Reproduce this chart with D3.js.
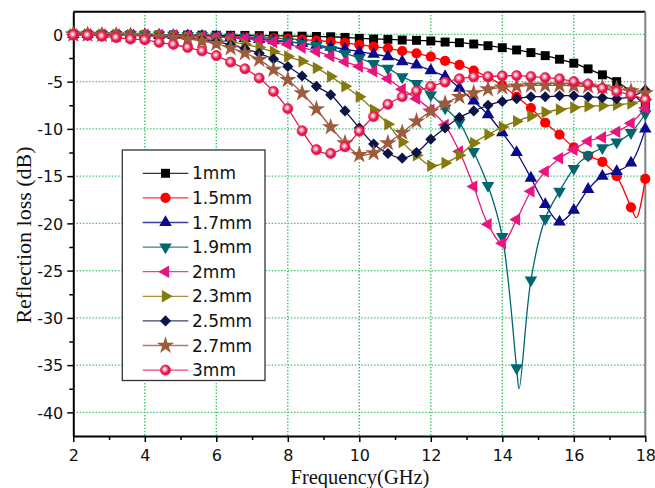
<!DOCTYPE html>
<html>
<head>
<meta charset="utf-8">
<script src="https://cdn.jsdelivr.net/npm/d3@7/dist/d3.min.js"></script>
<style>
  body { margin: 0; background: #fff; }
  svg { display: block; }
</style>
</head>
<body>
<svg id="chart" width="655" height="488"></svg>
<script>
// Frequency sampling points (GHz), one marker per point
const freqGHz = [2.0, 2.4, 2.8, 3.2, 3.6, 4.0, 4.4, 4.8, 5.2, 5.6, 6.0, 6.4, 6.8, 7.2, 7.6, 8.0,
  8.4, 8.8, 9.2, 9.6, 10.0, 10.4, 10.8, 11.2, 11.6, 12.0, 12.4, 12.8, 13.2, 13.6, 14.0, 14.4,
  14.8, 15.2, 15.6, 16.0, 16.4, 16.8, 17.2, 17.6, 18.0];

// Reflection loss (dB) for each absorber thickness
const rl1mm = [0, 0, 0, -0.02, -0.03, -0.04, -0.05, -0.06, -0.07, -0.08, -0.09, -0.1, -0.11, -0.13,
  -0.15, -0.17, -0.19, -0.22, -0.25, -0.32, -0.42, -0.49, -0.53, -0.6, -0.63, -0.7, -0.81, -0.88,
  -1.02, -1.2, -1.41, -1.65, -1.93, -2.25, -2.63, -3.05, -3.65, -4.28, -5.0, -6.1, -7.6];
const rl15mm = [0, 0, 0, -0.02, -0.04, -0.06, -0.08, -0.1, -0.13, -0.16, -0.2, -0.24, -0.28, -0.33,
  -0.4, -0.47, -0.55, -0.65, -0.78, -0.9, -1.1, -1.3, -1.47, -1.76, -2.0, -2.36, -2.81, -3.23,
  -3.83, -4.53, -5.4, -6.6, -7.8, -9.35, -10.6, -11.95, -12.85, -13.5, -15.0, -18.3, -15.3];
const rl17mm = [0, 0, -0.01, -0.02, -0.03, -0.05, -0.08, -0.11, -0.15, -0.2, -0.26, -0.33, -0.42,
  -0.52, -0.65, -0.8, -0.95, -1.15, -1.35, -1.55, -1.83, -2.1, -2.36, -2.88, -3.23, -3.83, -4.46,
  -5.7, -7.05, -8.5, -10.4, -12.5, -15.2, -18.0, -19.85, -18.6, -16.4, -15.0, -14.5, -13.6, -10.0];
const rl19mm = [0, 0, -0.01, -0.02, -0.03, -0.05, -0.07, -0.1, -0.13, -0.17, -0.22, -0.28, -0.35,
  -0.45, -0.6, -0.75, -0.95, -1.2, -1.6, -2.0, -2.5, -3.1, -3.6, -4.5, -5.2, -6.4, -7.8, -9.3,
  -12.4, -16.0, -21.4, -35.3, -26.0, -19.5, -16.6, -14.2, -12.8, -12.0, -11.4, -10.4, -8.4];
const rl2mm = [0, 0, -0.01, -0.02, -0.03, -0.05, -0.07, -0.1, -0.14, -0.2, -0.27, -0.35, -0.45,
  -0.6, -0.8, -1.05, -1.4, -1.8, -2.3, -2.9, -3.4, -3.9, -4.7, -5.8, -6.8, -8.0, -9.6, -12.4,
  -16.1, -20.1, -22.1, -19.6, -16.6, -14.5, -13.1, -12.2, -11.3, -10.9, -10.3, -9.4, -7.8];
const rl23mm = [0, 0, -0.02, -0.04, -0.07, -0.11, -0.17, -0.24, -0.33, -0.45, -0.6, -0.8, -1.05,
  -1.4, -1.85, -2.35, -2.85, -3.55, -4.46, -5.5, -6.6, -8.0, -9.5, -11.4, -12.8, -13.9, -13.6,
  -12.8, -11.5, -10.6, -9.8, -9.2, -8.65, -8.25, -7.95, -7.75, -7.6, -7.55, -7.45, -7.3, -6.9];
const rl25mm = [0, -0.02, -0.04, -0.07, -0.1, -0.14, -0.2, -0.28, -0.4, -0.55, -0.8, -1.1, -1.5,
  -2.0, -2.6, -3.4, -4.4, -5.5, -6.4, -8.1, -9.9, -11.6, -12.6, -13.1, -12.5, -11.1, -9.9, -8.8,
  -8.1, -7.5, -7.1, -6.8, -6.6, -6.6, -6.5, -6.5, -6.6, -6.7, -6.8, -6.6, -5.9];
const rl27mm = [0, -0.02, -0.05, -0.08, -0.12, -0.18, -0.25, -0.35, -0.5, -0.7, -1.0, -1.44, -1.97,
  -2.67, -3.73, -4.8, -6.2, -7.9, -9.8, -11.5, -12.75, -12.55, -11.5, -10.4, -9.2, -8.15, -7.3,
  -6.6, -6.2, -5.8, -5.6, -5.5, -5.4, -5.4, -5.4, -5.45, -5.5, -5.6, -5.75, -6.0, -6.2];
const rl3mm = [-0.07, -0.1, -0.2, -0.35, -0.5, -0.58, -0.85, -1.07, -1.39, -1.76, -2.24, -2.94,
  -3.64, -4.62, -6.04, -7.85, -10.2, -12.2, -12.6, -11.9, -10.25, -8.7, -7.4, -6.6, -6.0, -5.5,
  -5.05, -4.7, -4.5, -4.46, -4.4, -4.36, -4.46, -4.57, -4.7, -5.0, -5.26, -5.7, -6.04, -6.4, -6.9];

// Sharp absorption minima that fall between marker points (line only, no marker)
const peak15mm = [[17.75, -19.4]];
const peak19mm = [[14.47, -37.5]];

const seriesNames = ["1mm", "1.5mm", "1.7mm", "1.9mm", "2mm", "2.3mm", "2.5mm", "2.7mm", "3mm"];
const seriesValues = [rl1mm, rl15mm, rl17mm, rl19mm, rl2mm, rl23mm, rl25mm, rl27mm, rl3mm];
const seriesPeaks = [[], peak15mm, [], peak19mm, [], [], [], [], []];

const xTickValues = [2, 4, 6, 8, 10, 12, 14, 16, 18];
const xMinorTicks = [3, 5, 7, 9, 11, 13, 15, 17];
const yTickValues = [0, -5, -10, -15, -20, -25, -30, -35, -40];
const yMinorTicks = [-2.5, -7.5, -12.5, -17.5, -22.5, -27.5, -32.5, -37.5];

// Drawing styles for each thickness
const styles = [
  { color: "#000000", shape: "square" },
  { color: "#ff0000", shape: "circle" },
  { color: "#0a0a8c", shape: "up" },
  { color: "#00666f", shape: "down" },
  { color: "#e8157f", shape: "left" },
  { color: "#867910", shape: "right" },
  { color: "#0a1447", shape: "diamond" },
  { color: "#9e5a3c", shape: "star" },
  { color: "#e8174f", shape: "ball" }
];

const svg = d3.select("#chart");
const plotL = 73.3, plotR = 645.3, plotT = 11.7, plotB = 436;

const x = d3.scaleLinear().domain([2, 18]).range([plotL, plotR]);
const y = d3.scaleLinear().domain([-42.5, 2.4]).range([plotB, plotT]);

// Shaded ball marker for the 3mm series
const defs = svg.append("defs");
const grad = defs.append("radialGradient").attr("id", "ballGrad")
  .attr("cx", "45%").attr("cy", "45%").attr("r", "60%").attr("fx", "42%").attr("fy", "40%");
grad.append("stop").attr("offset", "0%").attr("stop-color", "#ffffff");
grad.append("stop").attr("offset", "28%").attr("stop-color", "#f7a3b6");
grad.append("stop").attr("offset", "62%").attr("stop-color", "#e8174f");
grad.append("stop").attr("offset", "100%").attr("stop-color", "#d8103f");

// Grid
const grid = svg.append("g").attr("class", "grid")
  .attr("stroke", "#3cc06a").attr("stroke-width", 1.4).attr("stroke-dasharray", "1.4,1.8");
grid.selectAll("line.gx").data(xTickValues.filter(v => v > 2 && v < 18)).join("line")
  .attr("class", "gx")
  .attr("x1", d => x(d)).attr("x2", d => x(d)).attr("y1", plotT).attr("y2", plotB);
grid.selectAll("line.gy").data(yTickValues).join("line")
  .attr("class", "gy")
  .attr("y1", d => y(d)).attr("y2", d => y(d)).attr("x1", plotL).attr("x2", plotR);

// Frame top and right
svg.append("line").attr("x1", plotL).attr("x2", plotR).attr("y1", plotT).attr("y2", plotT)
  .attr("stroke", "#000").attr("stroke-width", 2);
svg.append("line").attr("x1", plotR).attr("x2", plotR).attr("y1", plotT).attr("y2", plotB)
  .attr("stroke", "#808080").attr("stroke-width", 2);

// Axes (plain hyphen minus in labels)
const tickFont = "'DejaVu Sans', sans-serif";
const plainFmt = d => String(d);
const xAxis = svg.append("g").attr("transform", `translate(0,${plotB})`)
  .call(d3.axisBottom(x).tickValues(xTickValues).tickFormat(plainFmt)
    .tickSize(6).tickSizeOuter(0).tickPadding(5));
svg.append("g").attr("transform", `translate(0,${plotB})`)
  .call(d3.axisBottom(x).tickValues(xMinorTicks).tickSize(4).tickSizeOuter(0).tickFormat(""))
  .call(g => g.select(".domain").remove());
const yAxis = svg.append("g").attr("transform", `translate(${plotL},0)`)
  .call(d3.axisLeft(y).tickValues(yTickValues).tickFormat(plainFmt)
    .tickSize(6).tickSizeOuter(0).tickPadding(4));
svg.append("g").attr("transform", `translate(${plotL},0)`)
  .call(d3.axisLeft(y).tickValues(yMinorTicks).tickSize(4).tickSizeOuter(0).tickFormat(""))
  .call(g => g.select(".domain").remove());

svg.selectAll(".domain").attr("stroke", "#000").attr("stroke-width", 2);
svg.selectAll(".tick line").attr("stroke", "#000").attr("stroke-width", 1.5);
svg.selectAll(".tick text").attr("font-family", tickFont).attr("font-size", 16)
  .attr("fill", "#111");
xAxis.selectAll(".tick text").attr("dy", "0.9em");
yAxis.selectAll(".tick text").attr("dy", "0.36em");

// Axis titles
svg.append("text").attr("transform", "translate(31,235) rotate(-90)")
  .attr("text-anchor", "middle").attr("font-family", "'Liberation Serif', serif")
  .attr("font-size", 22).attr("fill", "#111").text("Reflection loss (dB)");
svg.append("text").attr("x", 360).attr("y", 483.5)
  .attr("text-anchor", "middle").attr("font-family", "'Liberation Serif', serif")
  .attr("font-size", 20.5).attr("fill", "#111").text("Frequency(GHz)");

// Marker shapes
function markerPath(shape) {
  switch (shape) {
    case "square": return { d: d3.symbol(d3.symbolSquare, 80)(), rot: 0 };
    case "circle": case "ball": return { d: d3.symbol(d3.symbolCircle, 82)(), rot: 0 };
    case "up": return { d: d3.symbol(d3.symbolTriangle, 68)(), rot: 0 };
    case "down": return { d: d3.symbol(d3.symbolTriangle, 68)(), rot: 180 };
    case "left": return { d: d3.symbol(d3.symbolTriangle, 68)(), rot: -90 };
    case "right": return { d: d3.symbol(d3.symbolTriangle, 68)(), rot: 90 };
    case "diamond": return { d: d3.symbol(d3.symbolSquare, 62)(), rot: 45 };
    case "star": return { d: d3.symbol(d3.symbolStar, 95)(), rot: 0 };
  }
}
function drawMarker(sel, st, cx, cy) {
  const m = markerPath(st.shape);
  sel.append("path").attr("d", m.d)
    .attr("transform", `translate(${cx},${cy}) rotate(${m.rot})`)
    .attr("fill", st.shape === "ball" ? "url(#ballGrad)" : st.color)
    .attr("stroke", st.shape === "ball" ? "#e8174f" : "none")
    .attr("stroke-width", 0.6);
}

// Curves with markers
const line = d3.line().x(d => x(d[0])).y(d => y(d[1])).curve(d3.curveCatmullRom.alpha(0.5));
const plot = svg.append("g");
seriesValues.forEach((vals, i) => {
  const st = styles[i];
  const pts = freqGHz.map((f, j) => [f, vals[j]]);
  const linePts = pts.concat(seriesPeaks[i]).sort((a, b) => a[0] - b[0]);
  const g = plot.append("g");
  g.append("path").datum(linePts).attr("d", line).attr("fill", "none")
    .attr("stroke", st.color).attr("stroke-width", 1.3);
  pts.forEach(p => drawMarker(g, st, x(p[0]), y(p[1])));
});

// Legend
const lg = svg.append("g");
lg.append("rect").attr("x", 122.3).attr("y", 150).attr("width", 142.7).attr("height", 230.5)
  .attr("fill", "#fff").attr("stroke", "#333").attr("stroke-width", 1.3);
seriesNames.forEach((name, i) => {
  const st = styles[i];
  const cy = 173.3 + i * 24.6;
  lg.append("line").attr("x1", 142.7).attr("x2", 188.3).attr("y1", cy).attr("y2", cy)
    .attr("stroke", st.color).attr("stroke-width", 1.3).attr("stroke-opacity", 0.8);
  drawMarker(lg, st, 165.5, cy);
  lg.append("text").attr("x", 192).attr("y", cy).attr("dy", "0.36em")
    .attr("font-family", tickFont).attr("font-size", 17).attr("fill", "#111").text(name);
});
</script>
</body>
</html>
